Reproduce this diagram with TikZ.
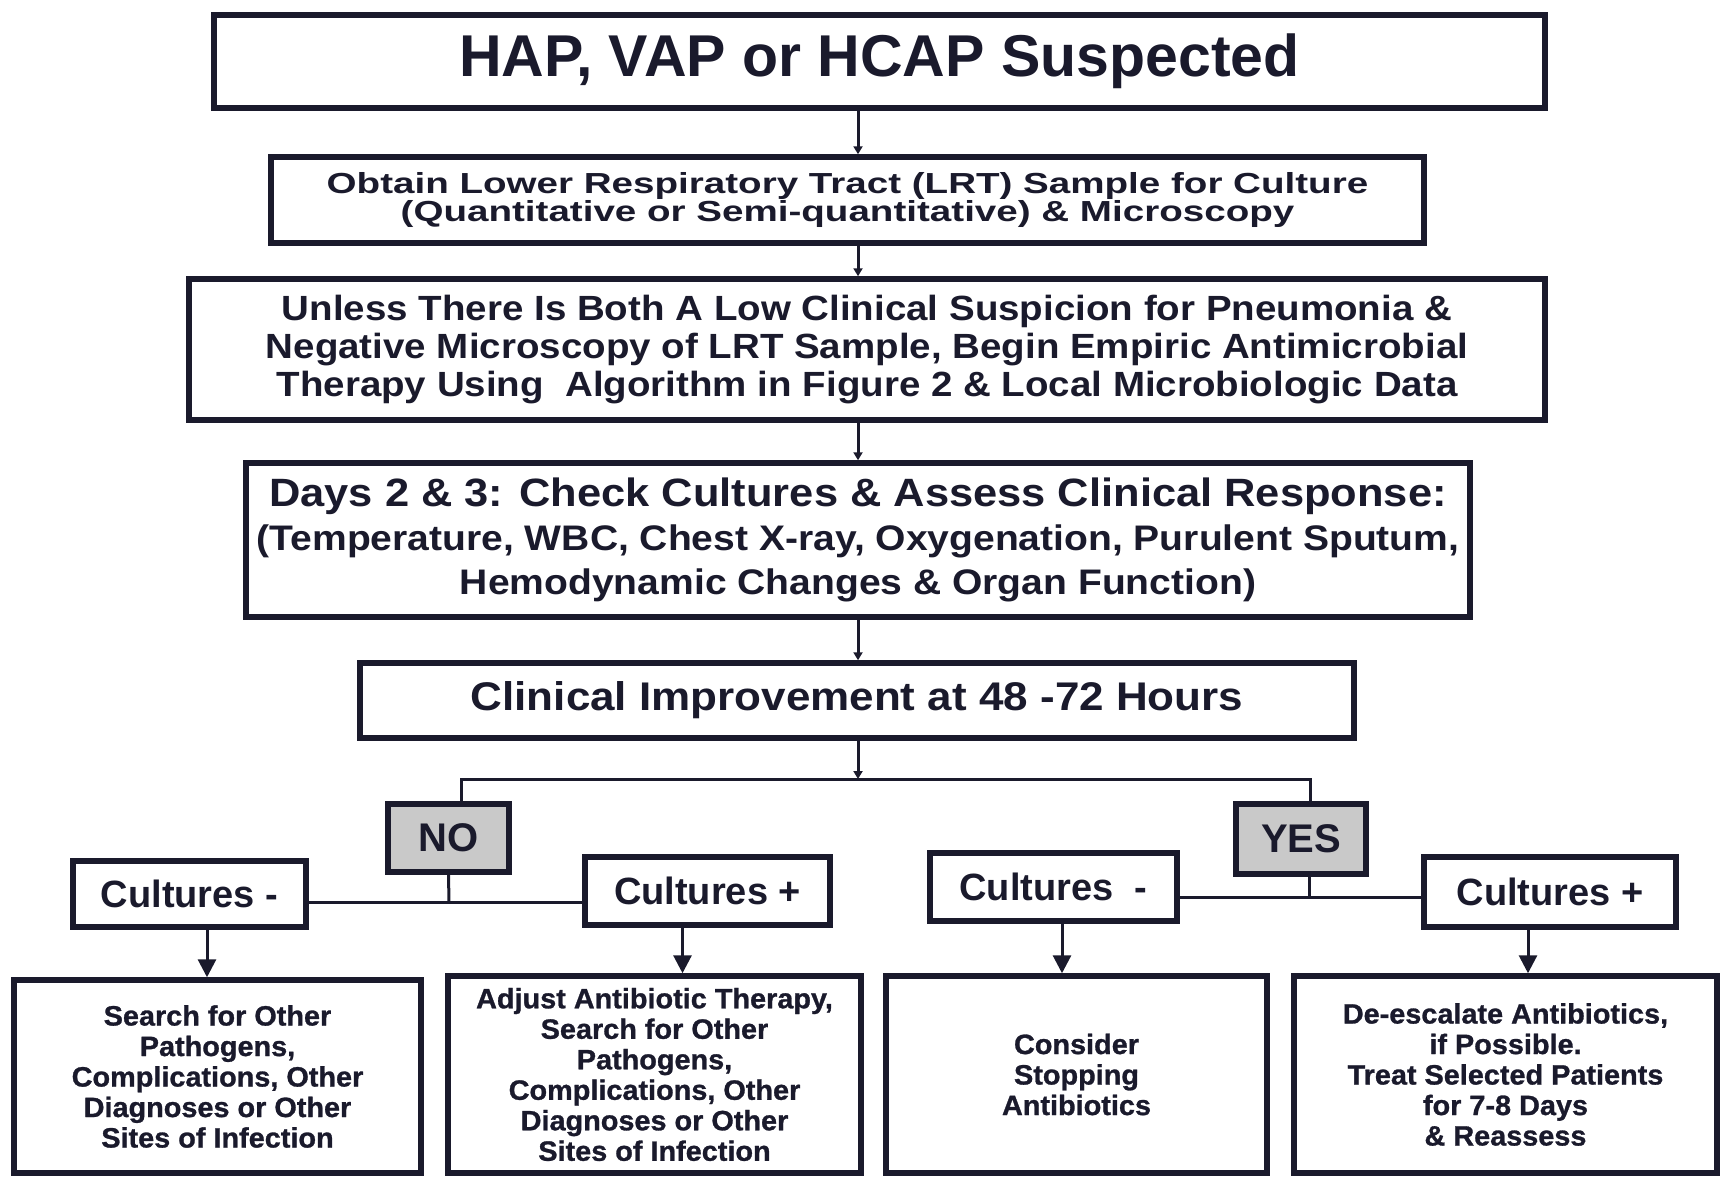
\documentclass[tikz,border=0pt]{standalone}
\usepackage{fontspec}
\setmainfont{Liberation Sans}
\newfontfamily\widesans[FakeStretch=1.33]{Liberation Sans}
\newfontfamily\broadsans[FakeStretch=1.1]{Liberation Sans}
\newfontfamily\outsans[FakeStretch=1.03,FakeBold=1]{Liberation Sans}
\usetikzlibrary{positioning,arrows.meta}
\definecolor{ink}{HTML}{1A1A2C}
\definecolor{shade}{HTML}{C9C9C9}

\begin{document}
\begin{tikzpicture}[x=1pt,y=-1pt,
  every text node part/.style={align=center},
  box/.style={draw=ink,line width=5.5pt,text=ink,inner sep=0pt},
  tag/.style={box,fill=shade,font=\bfseries\fontsize{40}{44}\selectfont},
  culture/.style={box,font=\bfseries\fontsize{38}{42}\selectfont},
  outcome/.style={box,font=\outsans\bfseries\fontsize{28}{30.5}\selectfont},
  link/.style={draw=ink,line width=3pt},
  arr/.style={link,-{Triangle[length=18pt,width=18pt]}},
  tip/.style={link,-{Triangle[length=8pt,width=9pt]}}]
\useasboundingbox (0,0) rectangle (1720,1176);

% main column
\node[box,minimum width=1331pt,minimum height=93pt,font=\bfseries\fontsize{59}{62}\selectfont] (hap) at (879.5,61.5) {HAP, VAP or HCAP Suspected};
\node[box,minimum width=1153pt,minimum height=86pt,font=\widesans\bfseries\fontsize{29}{27}\selectfont] (lrt) at (847.5,200) {Obtain Lower Respiratory Tract (LRT) Sample for Culture\\(Quantitative or Semi-quantitative) \& Microscopy};
\node[box,minimum width=1356pt,minimum height=141pt,font=\broadsans\bfseries\fontsize{35}{38}\selectfont] (empiric) at (867,349.5) {Unless There Is Both A Low Clinical Suspicion for Pneumonia \&\\Negative Microscopy of LRT Sample, Begin Empiric Antimicrobial\\Therapy Using\ \ Algorithm in Figure 2 \& Local Microbiologic Data};
\node[box,minimum width=1224pt,minimum height=154pt,font=\broadsans\bfseries\fontsize{35.5}{43.6}\selectfont] (days) at (858,540) {{\fontsize{39.5}{43.6}\selectfont Days 2 \& 3: Check Cultures \& Assess Clinical Response:}\\(Temperature, WBC, Chest X-ray, Oxygenation, Purulent Sputum,\\Hemodynamic Changes \& Organ Function)};
\node[box,minimum width=994pt,minimum height=75pt,font=\broadsans\bfseries\fontsize{40}{44}\selectfont] (improve) at (857,700.5) {Clinical Improvement at 48 -72 Hours};

% branches
\node[tag,minimum width=121pt,minimum height=68pt] (no) at (448.5,838) {NO};
\node[tag,minimum width=130pt,minimum height=70pt] (yes) at (1301,839) {YES};
\node[culture,minimum width=233pt,minimum height=66pt] (cneg1) at (189.5,894) {Cultures -};
\node[culture,minimum width=245pt,minimum height=68pt] (cpos1) at (707.5,891) {Cultures +};
\node[culture,minimum width=247pt,minimum height=68pt] (cneg2) at (1053.5,887) {Cultures\ \ -};
\node[culture,minimum width=252pt,minimum height=70pt] (cpos2) at (1550,892) {Cultures +};

% outcomes
\node[outcome,minimum width=407pt,minimum height=193pt] (out1) at (217.5,1076.5) {Search for Other\\Pathogens,\\Complications, Other\\Diagnoses or Other\\Sites of Infection};
\node[outcome,minimum width=413pt,minimum height=197pt] (out2) at (654.5,1074.5) {Adjust Antibiotic Therapy,\\Search for Other\\Pathogens,\\Complications, Other\\Diagnoses or Other\\Sites of Infection};
\node[outcome,minimum width=381pt,minimum height=197pt] (out3) at (1076.5,1074.5) {Consider\\Stopping\\Antibiotics};
\node[outcome,minimum width=423pt,minimum height=197pt] (out4) at (1505.5,1074.5) {De-escalate Antibiotics,\\if Possible.\\Treat Selected Patients\\for 7-8 Days\\\& Reassess};

% connectors
\coordinate (spine) at (858,0);
\coordinate (fork) at (858,779);
\coordinate (noleg) at (461,779);
\coordinate (yesleg) at (1310,779);
\coordinate (nojoin) at (449,902);
\coordinate (yesjoin) at (1309,897);
\draw[tip] (hap.south -| spine) -- (lrt.north -| spine);
\draw[tip] (lrt.south -| spine) -- (empiric.north -| spine);
\draw[tip] (empiric.south -| spine) -- (days.north -| spine);
\draw[tip] (days.south -| spine) -- (improve.north -| spine);
\draw[tip] (improve.south -| spine) -- (fork);
\draw[link] (noleg |- no.north) -- (noleg) -- (yesleg) -- (yesleg |- yes.north);
\draw[link] (no.south) -- (nojoin);
\draw[link] (cneg1.east |- nojoin) -- (cpos1.west |- nojoin);
\draw[link] (yes.south -| yesjoin) -- (yesjoin);
\draw[link] (cneg2.east |- yesjoin) -- (cpos2.west |- yesjoin);
\draw[arr] ([xshift=17.5pt]cneg1.south) -- ([xshift=17.5pt]cneg1.south |- out1.north);
\draw[arr] ([xshift=-25pt]cpos1.south) -- ([xshift=-25pt]cpos1.south |- out2.north);
\draw[arr] ([xshift=8.5pt]cneg2.south) -- ([xshift=8.5pt]cneg2.south |- out3.north);
\draw[arr] ([xshift=-22pt]cpos2.south) -- ([xshift=-22pt]cpos2.south |- out4.north);
\end{tikzpicture}
\end{document}
